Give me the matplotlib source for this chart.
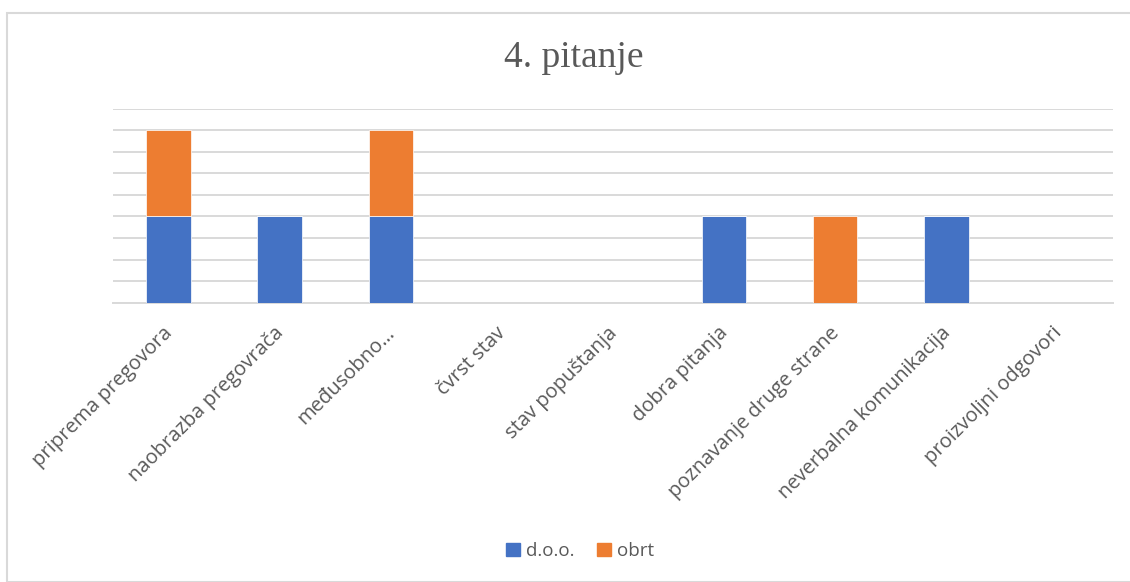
import matplotlib
matplotlib.use("Agg")
import matplotlib.pyplot as plt
from matplotlib.patches import Rectangle, Patch
from matplotlib.transforms import ScaledTranslation
import numpy as np

categories = ["priprema pregovora", "naobrazba pregovrača", "međusobno…", "čvrst stav",
              "stav popuštanja", "dobra pitanja", "poznavanje druge strane",
              "neverbalna komunikacija", "proizvoljni odgovori"]
doo = [1, 1, 1, 0, 0, 1, 0, 1, 0]
obrt = [1, 0, 1, 0, 0, 0, 1, 0, 0]
series_names = ["d.o.o.", "obrt"]
title = "4. pitanje"

BLUE = "#4472C4"
ORANGE = "#ED7D31"
GRID = "#D9D9D9"
TXT = "#595959"

fig = plt.figure(figsize=(11.3, 5.82), dpi=100)
fig.patches.append(Rectangle((7/1130, 0), 1.2, 1 - 13/582, transform=fig.transFigure,
                             fill=False, edgecolor=GRID, linewidth=1.5, zorder=0))
ax = fig.add_axes([113/1130, 1 - 302.7/582, 1000/1130, (302.7 - 108.5)/582])
x = np.arange(len(categories))
ax.bar(x, doo, width=0.4, color=BLUE, edgecolor="white", linewidth=0.5, zorder=3)
ax.bar(x, obrt, width=0.4, bottom=doo, color=ORANGE, edgecolor="white", linewidth=0.5, zorder=3)
ax.set_xlim(-0.5, len(categories) - 0.5)
ax.set_ylim(0, 2.25)
ax.set_yticks(np.arange(0, 2.26, 0.25))
ax.yaxis.grid(True, color=GRID, linewidth=1.4, zorder=0)
ax.tick_params(axis="y", length=0, labelleft=False)
ax.tick_params(axis="x", length=0, pad=6)
for s in ["top", "right", "left"]:
    ax.spines[s].set_visible(False)
ax.spines["bottom"].set_color(GRID)
ax.spines["bottom"].set_linewidth(1.4)
ax.set_xticks(x)
ax.set_xticklabels(categories, rotation=45, ha="right", va="top", rotation_mode="anchor",
                   fontsize=14.5, color=TXT, family="Open Sans")
off = ScaledTranslation(-6/100, -12/100, fig.dpi_scale_trans)
for lbl in ax.get_xticklabels():
    lbl.set_transform(lbl.get_transform() + off)

fig.text(574 / 1130, 1 - 58 / 582, title, ha="center", va="center",
         fontsize=27, color=TXT, family="Liberation Serif")

handles = [Patch(color=BLUE), Patch(color=ORANGE)]
fig.legend(handles, series_names, loc="center", bbox_to_anchor=(580/1130, 1 - 551/582),
           ncol=2, frameon=False, labelcolor=TXT,
           handlelength=0.75, handleheight=0.75, handletextpad=0.3, columnspacing=1.2,
           prop={"family": "Open Sans", "size": 13.5})

fig.savefig("out.png", dpi=100)
